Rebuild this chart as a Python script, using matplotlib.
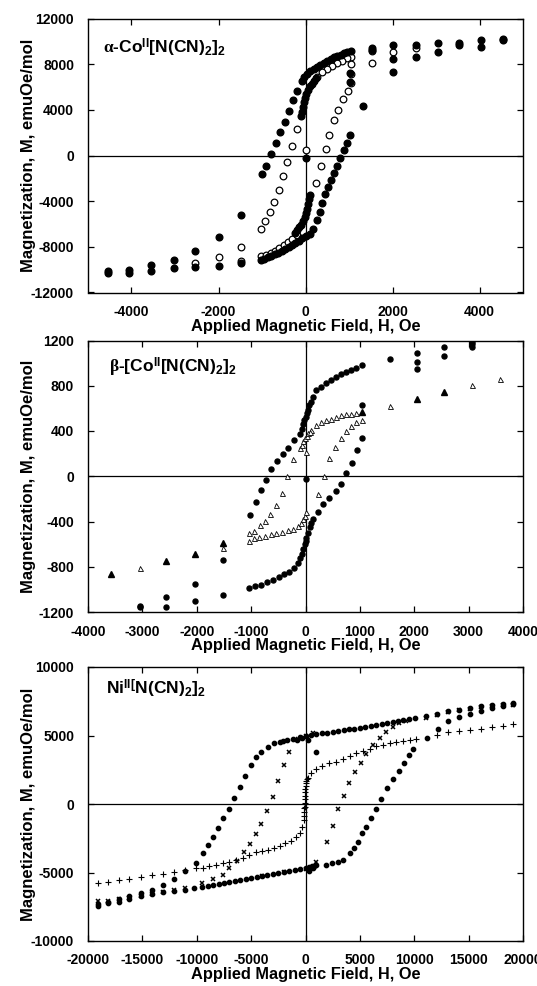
import matplotlib
matplotlib.use("Agg")
import matplotlib.pyplot as plt
import numpy as np

plt.rcParams['font.family'] = ['Liberation Sans', 'DejaVu Sans']
plt.rcParams['font.weight'] = 'bold'
plt.rcParams['axes.labelweight'] = 'bold'
plt.rcParams['mathtext.fontset'] = 'custom'
plt.rcParams['mathtext.rm'] = 'Liberation Sans:bold'
plt.rcParams['mathtext.it'] = 'Liberation Serif'
plt.rcParams['mathtext.bf'] = 'Liberation Sans:bold'
plt.rcParams['axes.unicode_minus'] = False

# ---------------- Panel 1: alpha-Co[N(CN)2]2 ----------------
p1_fill_H = [4536, 4039, 3540, 3042, 2544, 2008, 1525, 1040, 961, 880, 806, 730, 651, 575, 496, 420, 341, 265,
             186, 110, 31, -30, -85, -186, -279, -388, -481, -589, -682, -783, -915, -996, -1494, -2000, -2536,
             -3027, -3547, -4046, -4545,
             -4545, -4046, -3547, -3027, -2536, -2000, -1494, -1030, -950, -870, -790, -710, -630, -550, -470,
             -390, -310, -230, -150, -70, 15, 93, 170, 264, 326, 388, 450, 519, 589, 651, 729, 783, 884, 961,
             1023, 1317, 2008, 2544, 3042, 3540, 4039, 4536,
             2008, 1030, 1030, 0, 1525,
             -109, -85, -62, -35, -8, 20, 55, 95, 140, 190, 240,
             109, 85, 62, 35, 8, -20, -55, -95, -140, -190, -240]
p1_fill_M = [10180, 10110, 9880, 9880, 9680, 9680, 9390, 9130, 9040, 8940, 8830, 8720, 8600, 8460, 8310, 8140,
             7960, 7780, 7580, 7370, 7140, 6900, 6500, 5690, 4870, 3880, 2970, 2040, 1080, 120, -930, -1650,
             -5210, -7140, -8360, -9150, -9590, -10030, -10110,
             -10300, -10260, -10090, -9820, -9780, -9650, -9390, -9150, -9030, -8900, -8780, -8650, -8510,
             -8360, -8200, -8030, -7850, -7650, -7450, -7250, -7050, -6850, -6410, -5690, -4960, -4170, -3410,
             -2770, -2130, -1545, -960, -200, 440, 1080, 1810, 4330, 7280, 8600, 9090, 9700, 9530, 10100,
             8420, 7250, 6400, -200, 9200,
             3500, 3850, 4250, 4700, 5050, 5400, 5750, 6050, 6300, 6550, 6750,
             -3500, -3850, -4250, -4700, -5050, -5400, -5750, -6050, -6300, -6550, -6750]

p1_open_H = [1039, 961, 845, 729, 612, 496, 380, 264, -202, -302, -420, -508, -617, -726, -820, -922, -1012,
             -1494, -2000, -2536, -1494,
             -1016, -900, -800, -700, -600, -500, -400, -300, -200,
             0, 250, 356, 465, 551, 660, 758, 860, 969, 1040, 1055, 1050,
             1525, 1525, 2008, 2544]
p1_open_M = [8660, 8540, 8310, 8080, 7870, 7580, 7290, 6850, 2330, 875, -610, -1825, -3035, -4060, -4935, -5725,
             -6420, -8040, -8920, -9380, -9270,
             -8830, -8680, -8520, -8330, -8120, -7880, -7600, -7280, -6940,
             440, -2380, -950, 583, 1810, 3095, 3990, 4935, 5665, 6350, 7150, 8000,
             8130, 9150, 9090, 9400]

# ---------------- Panel 2: beta-Co[N(CN)2]2 ----------------
p2_circ_H = [3061, 3061, 2550, 2046, 2046, 1548, 1046, 935, 843, 750, 658, 566, 474, 381, 289, 197, 135, 92, 62,
             40, 20, 0, -20, -37, -68, -98, -203, -318, -413, -520, -627, -722, -823, -911, -1025, -1526, -2035,
             -2559, -3050,
             -3050, -2559, -2035, -1526, -1033, -922, -818, -713, -603, -492, -387, -295, -203, -135, -98, -68,
             -37, -12, 0, 12, 43, 74, 105, 135, 236, 331, 438, 552, 659, 753, 854, 949, 1046, 2046, 2550, 3061,
             1046, 0]
p2_circ_M = [1188, 1171, 1144, 1092, 1013, 1033, 984, 954, 939, 918, 901, 874, 850, 827, 791, 761, 702, 658, 628,
             590, 560, 524, 495, 465, 421, 376, 317, 249, 199, 135, 67, -29, -123, -225, -342, -743, -951,
             -1065, -1147,
             -1157, -1157, -1104, -1047, -987, -972, -957, -933, -913, -889, -868, -844, -809, -764, -720, -690,
             -646, -601, -572, -542, -498, -453, -409, -379, -313, -246, -196, -129, -70, 29, 117, 228, 341,
             951, 1062, 1141,
             628, -24]

p2_tri_open_H = [105, 197, 289, 381, 474, 566, 658, 750, 843, 935,
                 -100, -70, -40, -10, 20, 50, 80,
                 0, -221, -344, -430, -535, -652, -741, -843, -941, -1046,
                 -1046, -941, -849, -744, -640, -535, -430, -326, -234, -141, -80, -37, -15, 5,
                 228, 332, 424, 535, 658, 750, 843, 935, 1046,
                 -3050, -1526, 1548, 3061, 3578]
p2_tri_open_M = [406, 450, 480, 495, 510, 524, 539, 548, 554, 560,
                 250, 280, 310, 340, 360, 380, 395,
                 213, 154, 2, -150, -254, -337, -393, -435, -487, -500,
                 -568, -549, -539, -527, -513, -499, -489, -477, -463, -437, -409, -379, -350, -320,
                 -157, 6, 160, 258, 341, 400, 441, 480, 495,
                 -807, -638, 623, 808, 857]
p2_tri_fill_H = [-3574, -2559, -2035, -1526, 2046, 2550, 1046]
p2_tri_fill_M = [-860, -748, -683, -594, 682, 749, 569]

# ---------------- Panel 3: Ni[N(CN)2]2 ----------------
p3_circ_H = [19080, 18160, 17150, 16170, 15090, 14110, 13100, 12090, 11100, 10030, 9500, 9000, 8500, 8000, 7500,
             7000, 6500, 6000, 5500, 5000, 4500, 4000, 3500, 3000, 2500, 2000, 1500, 1000, 500, 0, -500, -1170,
             -1700, -2090, -2390, -2940, -3470, -4080, -4540, -5000, -5520, -6010, -6560, -6990, -7610, -8070,
             -8530, -8990, -9450, -10060, -11040, -12060, -13070, -14110, -15120, -16200, -17180, -18190, -19110,
             -19110, -18190, -17180, -16200, -15120, -14110, -13070, -12060, -11040,
             -10210, -9500, -9000, -8500, -8000, -7500, -7000, -6500, -6000, -5500, -5000, -4500, -4000, -3500,
             -3000, -2500, -2000, -1500, -1000, -500, 0, 300, 600, 980,
             1900, 2450, 2980, 3440, 4050, 4420, 4820, 5210, 5580, 6040, 6500, 6960, 7480, 8040, 8560, 9020,
             9510, 9880, 11170, 12180, 13100, 14110, 15090, 16170, 17150, 18160, 19080,
             1000, -300, 200, 700, -800, 300, 800]
p3_circ_M = [7380, 7280, 7210, 7140, 7040, 6890, 6800, 6600, 6410, 6310, 6230, 6150, 6080, 6000, 5920, 5850,
             5780, 5700, 5640, 5580, 5510, 5440, 5380, 5330, 5260, 5200, 5150, 5100, 5050, 5000, 4900, 4780,
             4680, 4610, 4530, 4420, 4170, 3810, 3400, 2840, 2040, 1210, 410, -360, -1040, -1770, -2430, -2990,
             -3600, -4300, -4900, -5500, -5900, -6250, -6500, -6750, -6950, -7150, -7300,
             -7420, -7260, -7150, -6950, -6750, -6600, -6450, -6350, -6300,
             -6140, -6040, -5970, -5900, -5830, -5760, -5690, -5620, -5550, -5480, -5410, -5340, -5270, -5200,
             -5130, -5060, -4990, -4920, -4850, -4780, -4700, -4620, -4530, -4440,
             -4440, -4320, -4200, -4080, -3590, -3230, -2740, -2140, -1650, -1040, -390, 360, 1140, 1800, 2430,
             3010, 3570, 3980, 4850, 5440, 6070, 6360, 6600, 6800, 7040, 7140, 7330,
             3810, 4850, 4700, -4650, 4700, -4900, -4550]

p3_x_H = [-1530, -2000, -2550, -3005, -3500, -4080, -4540, -5090, -5690, -6300, -7000, -7610, -8530, -9500,
          -11040, -12060, -13070, -14110, -15120, -16200, -17180, -18190, -19110,
          -4000, -2000, 0, 980,
          1975, 2565, 3025, 3560, 4005, 4555, 5120, 5580, 6200, 6810, 7420, 8000, 8600, 9200,
          11100, 12090, 13100, 14110, 15090, 16170, 17150, 18160, 19080,
          -700, 0, 700]
p3_x_M = [3810, 2880, 1690, 475, -535, -1460, -2220, -2925, -3530, -4140, -4680, -5170, -5490, -5800,
          -6140, -6310, -6450, -6600, -6750, -6850, -6960, -7050, -7110,
          -5250, -4980, -4720, -4250,
          -2805, -1580, -340, 610, 1550, 2350, 3020, 3640, 4300, 4850, 5270, 5620, 5900, 6050,
          6300, 6500, 6700, 6850, 6950, 7100, 7150, 7200, 7250,
          4750, 4950, 5150]

p3_plus_H = [-19110, -18190, -17180, -16200, -15120, -14110, -13130, -12120, -11040, -10060, -9450, -8830,
             -8220, -7610, -7000, -6380, -5770, -5150, -4540, -3990, -3470, -2910, -2390, -1840, -1320, -860,
             -550, -310, -180, -150, -130, -110, -90, -75, -60, -45, -30, -15, 0, 30, 60, 120, 210, 520, 980,
             1530, 2150, 2760, 3440, 4050, 4660, 5280, 5890, 6500, 7120, 7730, 8340, 8960, 9570, 10180, 12090,
             13100, 14110, 15090, 16170, 17150, 18160, 19080]
p3_plus_M = [-5730, -5660, -5530, -5460, -5340, -5170, -5100, -4980, -4850, -4680, -4640, -4510, -4440, -4320,
             -4200, -4080, -3910, -3710, -3540, -3420, -3350, -3230, -3060, -2860, -2670, -2380, -2090, -1650,
             -1170, -900, -600, -300, -190, 100, 350, 600, 850, 1100, 1300, 1500, 1650, 1800, 1870, 2230, 2520,
             2770, 2960, 3080, 3280, 3500, 3690, 3860, 4050, 4220, 4340, 4420, 4490, 4590, 4660, 4710, 5020,
             5220, 5320, 5390, 5510, 5630, 5700, 5830]

labels = [r'$\alpha$-Co$^{\mathrm{II}}$[N(CN)$_{2}$]$_{2}$',
          r'$\beta$-[Co$^{\mathrm{II}}$[N(CN)$_{2}$]$_{2}$',
          r'Ni$^{\mathrm{II[}}$N(CN)$_{2}$]$_{2}$']

W, H = 537, 986
fig = plt.figure(figsize=(W / 100, H / 100), dpi=100)

def make_ax(top_px, bot_px):
    left, right = 88, 523
    return fig.add_axes([left / W, 1 - bot_px / H, (right - left) / W, (bot_px - top_px) / H])

ax1 = make_ax(18.5, 292.5)
ax2 = make_ax(340.5, 612)
ax3 = make_ax(667, 941)

def style(ax, xlim, ylim, xticks, yticks):
    ax.set_xlim(*xlim)
    ax.set_ylim(*ylim)
    ax.set_xticks(xticks)
    ax.set_yticks(yticks)
    ax.tick_params(direction='in', top=True, right=True, length=4, width=0.9,
                   labelsize=10)
    ax.tick_params(axis='x', pad=9)
    ax.tick_params(axis='y', pad=10)
    for s in ax.spines.values():
        s.set_linewidth(1.0)
    ax.axhline(0, color='k', lw=0.9, zorder=1)
    ax.axvline(0, color='k', lw=0.9, zorder=1)
    ax.set_xlabel('Applied Magnetic Field, H, Oe', fontsize=11.8, fontweight='bold')
    ax.set_ylabel('Magnetization, M, emuOe/mol', fontsize=12, fontweight='bold')
    ax.xaxis.set_label_coords(0.5, -0.095)
    ax.yaxis.set_label_coords(-0.12, 0.5)

style(ax1, (-5000, 5000), (-12000, 12000), np.arange(-4000, 4001, 2000), np.arange(-12000, 12001, 4000))
style(ax2, (-4000, 4000), (-1200, 1200), np.arange(-4000, 4001, 1000), np.arange(-1200, 1201, 400))
style(ax3, (-20000, 20000), (-10000, 10000), np.arange(-20000, 20001, 5000), np.arange(-10000, 10001, 5000))

# panel 1
ax1.plot(p1_open_H, p1_open_M, 'o', ms=4.8, mfc='white', mec='black', mew=0.9, ls='none', zorder=3)
ax1.plot(p1_fill_H, p1_fill_M, 'o', ms=4.8, mfc='black', mec='black', ls='none', zorder=4)

# panel 2
ax2.plot(p2_circ_H, p2_circ_M, 'o', ms=3.6, mfc='black', mec='black', ls='none', zorder=3)
ax2.plot(p2_tri_open_H, p2_tri_open_M, '^', ms=3.6, mfc='white', mec='black', mew=0.6, ls='none', zorder=4)
ax2.plot(p2_tri_fill_H, p2_tri_fill_M, '^', ms=3.8, mfc='black', mec='black', ls='none', zorder=4)

# panel 3
ax3.plot(p3_circ_H, p3_circ_M, 'o', ms=3.1, mfc='black', mec='black', ls='none', zorder=3)
ax3.plot(p3_x_H, p3_x_M, 'x', ms=3.4, mec='black', mew=1.1, ls='none', zorder=4)
ax3.plot(p3_plus_H, p3_plus_M, '+', ms=4.0, mec='black', mew=0.8, ls='none', zorder=4)

ax1.text(0.035, 0.893, labels[0], transform=ax1.transAxes, fontsize=12.5, fontweight='bold', va='center')
ax2.text(0.048, 0.90, labels[1], transform=ax2.transAxes, fontsize=12.5, fontweight='bold', va='center')
ax3.text(0.041, 0.92, labels[2], transform=ax3.transAxes, fontsize=12.5, fontweight='bold', va='center')

fig.savefig('out.png', dpi=100)
